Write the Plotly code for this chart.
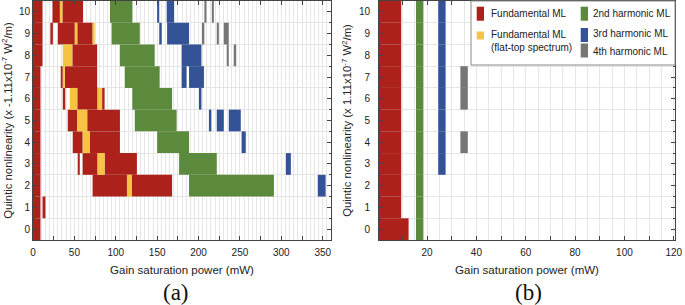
import plotly.graph_objects as go

# ---------------- data (row = quintic nonlinearity, start/end = gain saturation power, mW) -------------
# Panel (a)
A_FUND = [(10, 0, 11.5), (10, 23.5, 32.5), (10, 35.5, 60.5),
          (9, 0, 11.5), (9, 21, 24), (9, 30, 50.5), (9, 53.5, 72),
          (8, 0, 11.5), (8, 47.5, 77.5),
          (7, 0, 9), (7, 33.5, 36), (7, 38.5, 77.5),
          (6, 0, 9), (6, 36, 39), (6, 53.5, 78), (6, 83.5, 86.5),
          (5, 0, 9), (5, 42, 53.5), (5, 65.5, 105),
          (4, 0, 9), (4, 48, 60), (4, 68.5, 105),
          (3, 0, 9), (3, 54, 56.5), (3, 60, 78), (3, 86.5, 125.5),
          (2, 0, 9), (2, 72, 113.5), (2, 119.5, 168),
          (1, 0, 9), (1, 11.5, 15),
          (0, 0, 9)]
A_FLAT = [(10, 32.5, 35.5),
          (9, 50.5, 53.5), (9, 72, 74.5),
          (8, 36, 47.5),
          (7, 36, 38.5),
          (6, 44.5, 53.5), (6, 78, 83.5),
          (5, 53.5, 65.5),
          (4, 60, 68.5),
          (3, 78, 86.5),
          (2, 113.5, 119.5)]
A_H2 = [(10, 93, 120), (9, 95, 129), (8, 105, 147), (7, 111, 153), (6, 120, 168),
        (5, 123, 173.5), (4, 150, 188.5), (3, 176.5, 222), (2, 188.5, 291)]
A_H3 = [(10, 150, 152.5), (10, 161.5, 170.5),
        (9, 152.5, 155.5), (9, 162, 188.5),
        (8, 179.5, 203.5),
        (7, 179.5, 185.5), (7, 188.5, 206.5),
        (6, 200.5, 203.5),
        (5, 212.5, 215.5), (5, 222, 230.5), (5, 236.5, 251),
        (4, 252, 257),
        (3, 305.5, 311.5),
        (2, 344, 353.5)]
A_H4 = [(10, 207, 209.5), (10, 216, 218.5),
        (9, 204, 207), (9, 222, 224.5), (9, 230.5, 236.5),
        (8, 234, 236.5), (8, 242.5, 245.5)]

# Panel (b)
B_FUND_ROWS = [10, 9, 8, 7, 6, 5, 4, 3, 2, 1, 0]
B_FUND_END = [9.5, 9.5, 9.5, 9.5, 9.5, 9.5, 9.5, 9.5, 9.5, 9.5, 12.5]
B_H2_ROWS = [10, 9, 8, 7, 6, 5, 4, 3, 2, 1, 0]
B_H3_ROWS = [10, 9, 8, 7, 6, 5, 4, 3]
B_H4_ROWS = [7, 6, 4]
B_FUND = [(r, 0, e) for r, e in zip(B_FUND_ROWS, B_FUND_END)]
B_H2 = [(r, 15.5, 18.5) for r in B_H2_ROWS]
B_H3 = [(r, 24.5, 27.5) for r in B_H3_ROWS]
B_H4 = [(r, 33.5, 36.5) for r in B_H4_ROWS]

NAMES = ["Fundamental ML", "Fundamental ML<br>(flat-top spectrum)",
         "2nd harmonic ML", "3rd harmonic ML", "4th harmonic ML"]
COLORS = ["#AC2119", "#F6C342", "#5C8A3C", "#345296", "#787575"]

A_XTICKS = list(range(0, 351, 25))
B_XTICKS = list(range(10, 121, 10))
YTICKS = list(range(0, 11))

FONT = "Liberation Sans, Arial, sans-serif"
SERIF = "Liberation Serif, Times New Roman, serif"

# figure geometry (pixels) -> paper helpers
W, H = 685, 305
ML, MR, MT, MB = 33, 10, 1, 65
PW, PH = W - ML - MR, H - MT - MB


def px(xp):
    return (xp - ML) / PW


def py(yp):
    return (H - MB - yp) / PH


def bars(segs, color, name, xa, ya):
    return go.Bar(
        orientation="h",
        y=[s[0] for s in segs],
        base=[s[1] for s in segs],
        x=[s[2] - s[1] for s in segs],
        width=1,
        marker=dict(color=color, line=dict(width=0)),
        name=name.replace("<br>", " "), xaxis=xa, yaxis=ya,
        showlegend=False, hoverinfo="skip",
    )


fig = go.Figure()
for segs, c, n in zip([A_FUND, A_FLAT, A_H2, A_H3, A_H4], COLORS, NAMES):
    fig.add_trace(bars(segs, c, n, "x", "y"))
for segs, c, n in zip([B_FUND, B_H2, B_H3, B_H4], [COLORS[0]] + COLORS[2:], [NAMES[0]] + NAMES[2:]):
    fig.add_trace(bars(segs, c, n, "x2", "y2"))

GRID = "#e6e6e6"
LINE = "#444444"
TICKFONT = dict(family=FONT, size=10, color="#222")
XTITLEFONT = dict(family=FONT, size=11.5, color="#222")
YTITLEFONT = dict(family=FONT, size=11.3, color="#222")

common_x = dict(
    showline=True, linecolor=LINE, linewidth=1, mirror="ticks",
    ticks="inside", ticklen=4, tickcolor=LINE, tickfont=TICKFONT,
    showgrid=True, gridcolor=GRID, gridwidth=1, zeroline=False, automargin=False,
    minor=dict(tickmode="linear", tick0=0, dtick=5, showgrid=True, gridcolor=GRID, ticks=""),
    title=dict(text="Gain saturation power (mW)", font=XTITLEFONT, standoff=8),
    ticklabelstandoff=3,
)
common_y = dict(
    showline=True, linecolor=LINE, linewidth=1, mirror="ticks",
    ticks="inside", ticklen=4, tickcolor=LINE, tickfont=TICKFONT,
    tickmode="array", tickvals=YTICKS, ticktext=[str(v) for v in YTICKS],
    showgrid=False, zeroline=False, range=[-0.5, 10.5], automargin=False,
    minor=dict(tickmode="linear", tick0=0.5, dtick=1, showgrid=True, gridcolor=GRID,
               ticks="inside", ticklen=2, tickcolor=LINE),
)

# manual legend (two columns inside a framed box on panel b)
LEG_SWATCH = [  # (x0, x1, y0, y1) in pixels
    (476.7, 484, 6.7, 20.7), (476.7, 484, 31.5, 39.5),
    (580.7, 588, 6.7, 20.7), (580.7, 588, 28, 42), (580.7, 588, 43.5, 57.5)]
LEG_TEXT = [(488.7, 13.3), (488.7, 41), (590.7, 13.3), (590.7, 34), (590.7, 51)]

shapes = [dict(type="rect", xref="paper", yref="paper", x0=px(471), x1=1.0, y0=py(65), y1=1.0,
               fillcolor="white", line=dict(color="#8a8a8a", width=1), layer="above")]
annotations = []
for (x0, x1, y0, y1), c, (tx, ty), n in zip(LEG_SWATCH, COLORS, LEG_TEXT, NAMES):
    shapes.append(dict(type="rect", xref="paper", yref="paper", x0=px(x0), x1=px(x1),
                       y0=py(y1), y1=py(y0), fillcolor=c, line=dict(width=0), layer="above"))
    annotations.append(dict(text=n, xref="paper", yref="paper", x=px(tx), y=py(ty),
                            xanchor="left", yanchor="middle", align="left", showarrow=False,
                            font=dict(family=FONT, size=10, color="#222")))
annotations += [
    dict(text="(a)", xref="paper", yref="paper", x=px(176), y=py(292), showarrow=False,
         xanchor="center", yanchor="middle", font=dict(family=SERIF, size=23, color="#111")),
    dict(text="(b)", xref="paper", yref="paper", x=px(528.5), y=py(292), showarrow=False,
         xanchor="center", yanchor="middle", font=dict(family=SERIF, size=23, color="#111")),
]

fig.update_layout(
    width=W, height=H,
    margin=dict(l=ML, r=MR, t=MT, b=MB, autoexpand=False),
    paper_bgcolor="white", plot_bgcolor="white",
    barmode="overlay", showlegend=False,
    font=dict(family=FONT, color="#222"),
    xaxis=dict(common_x, domain=[0, px(331)], range=[0, 360], anchor="y",
               tickmode="array", tickvals=A_XTICKS,
               ticktext=[str(v) if v % 50 == 0 else "" for v in A_XTICKS]),
    yaxis=dict(common_y, anchor="x",
               title=dict(text="Quintic nonlinearity (x -1.11x10<sup>-7</sup> W<sup>2</sup>/m)",
                          font=YTITLEFONT, standoff=4)),
    xaxis2=dict(common_x, domain=[px(379), 1], range=[0.5, 120.5], anchor="y2",
                tickmode="array", tickvals=B_XTICKS,
                ticktext=[str(v) if v % 20 == 0 else "" for v in B_XTICKS]),
    yaxis2=dict(common_y, anchor="x2", ticklabelstandoff=6,
                title=dict(text="Quintic nonlinearity (x 1.11x10<sup>-7</sup> W<sup>2</sup>/m)",
                           font=YTITLEFONT, standoff=4)),
    shapes=shapes,
    annotations=annotations,
)

# remove the default 8px page margin so the 685x305 figure fills the window exactly
fig.write_html("out.html", config={"displayModeBar": False},
               post_script="document.body.style.margin='0';document.body.style.overflow='hidden';")
